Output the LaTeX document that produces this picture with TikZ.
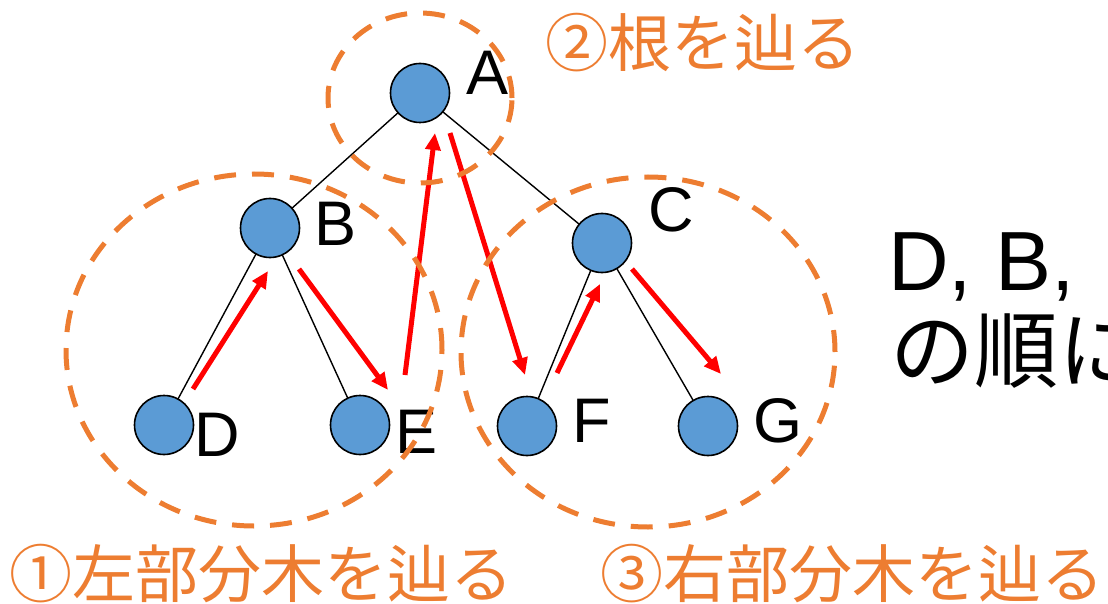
\documentclass[tikz,border=0pt]{standalone}
\usepackage{fontspec}
\setmainfont{Liberation Sans}
\newfontfamily\jpfont{Noto Sans CJK JP}
\usetikzlibrary{arrows.meta}
\definecolor{dashorange}{HTML}{ED7D31}
\definecolor{nodeblue}{HTML}{5B9BD5}
\begin{document}
\begin{tikzpicture}[x=1pt,y=-1pt,
  treenode/.style={circle,draw=black,line width=1.6pt,fill=nodeblue,minimum size=59pt,inner sep=0pt},
  letter/.style={anchor=base,inner sep=0pt,font=\fontsize{63}{63}\selectfont},
  edge/.style={black,line width=1.4pt},
  travel/.style={red,line width=5pt,-{Triangle[length=17pt,width=15pt]}},
  subtree/.style={dashorange,line width=5pt,dash pattern=on 22pt off 16pt},
  caption/.style={anchor=base west,inner sep=0pt,text=dashorange,font=\jpfont\fontsize{63}{63}\selectfont}]
\clip (0,0) rectangle (1108,604);
% tree edges
\coordinate (cA) at (420,93);
\coordinate (cB) at (270,228);
\coordinate (cC) at (602,243);
\coordinate (cD) at (164,425);
\coordinate (cE) at (360,425);
\coordinate (cF) at (527,426);
\coordinate (cG) at (708,426);
\draw[edge] (cA) -- (cB);
\draw[edge] (cA) -- (cC);
\draw[edge] (cB) -- (cD);
\draw[edge] (cB) -- (cE);
\draw[edge] (cC) -- (cF);
\draw[edge] (cC) -- (cG);
% nodes
\node[treenode] (A) at (cA) {};
\node[treenode] (B) at (cB) {};
\node[treenode] (C) at (cC) {};
\node[treenode] (D) at (cD) {};
\node[treenode] (E) at (cE) {};
\node[treenode] (F) at (cF) {};
\node[treenode] (G) at (cG) {};
% labels
\node[letter] (lA) at (488,95) {A};
\node[letter] (lB) at (336,245) {B};
\node[letter] (lC) at (671,231) {C};
\node[letter] (lD) at (217,456) {D};
\node[letter] (lE) at (417,453) {E};
\node[letter] (lF) at (592,442) {F};
\node[letter] (lG) at (778,442) {G};
% traversal arrows
\coordinate (d1) at (193,389); \coordinate (b1) at (268,271);
\coordinate (b2) at (299,269); \coordinate (e1) at (388,390);
\coordinate (e2) at (405,375); \coordinate (a1) at (435,133);
\coordinate (a2) at (450,133); \coordinate (f1) at (525,375);
\coordinate (f2) at (557,373); \coordinate (c1) at (600,284);
\coordinate (c2) at (632,269); \coordinate (g1) at (721,374);
\draw[travel] (d1) -- (b1);
\draw[travel] (b2) -- (e1);
\draw[travel] (e2) -- (a1);
\draw[travel] (a2) -- (f1);
\draw[travel] (f2) -- (c1);
\draw[travel] (c2) -- (g1);
% dashed regions
\draw[subtree] (420,98) ellipse [x radius=92pt, y radius=85pt];
\draw[subtree] (254,350) ellipse [x radius=188pt, y radius=176pt];
\draw[subtree] (648,352) ellipse [x radius=187pt, y radius=175pt];
% captions
\node[caption] (t2) at (545,67) {②根を辿る};
\node[caption] (t1) at (9,597) {①左部分木を辿る};
\node[caption] (t3) at (600,597) {③右部分木を辿る};
% order text
\node[anchor=base west,inner sep=0pt,font=\fontsize{84}{84}\selectfont] (ord1) at (888,290) {D, B,};
\node[anchor=base west,inner sep=0pt,font=\jpfont\fontsize{84}{84}\selectfont] (ord2) at (890,381) {の順に};
\end{tikzpicture}
\end{document}
